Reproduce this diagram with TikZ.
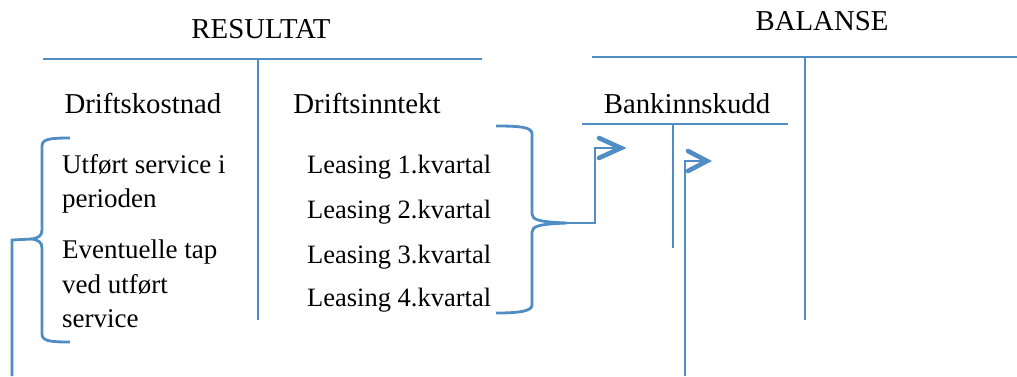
\documentclass[tikz,border=0pt]{standalone}
\usepackage{fontspec}
\setmainfont{Liberation Serif}
\definecolor{acct}{HTML}{4F8DC4}
\begin{document}
\begin{tikzpicture}[x=1pt,y=-1pt,
  tline/.style={draw=acct,line width=2.8pt},
  chev/.style={draw=acct,line width=4.6pt,line cap=round,line join=miter},
  head/.style={anchor=base,font=\fontsize{28.8}{32}\selectfont},
  item/.style={anchor=base west,font=\fontsize{27}{31}\selectfont,inner sep=0pt},
  lease/.style={anchor=base west,font=\fontsize{26.5}{30}\selectfont,inner sep=0pt}]
\useasboundingbox (0,0) rectangle (1017,376);

% RESULTAT T-account
\node[head] (res) at (261,38) {RESULTAT};
\coordinate (resL) at (43,59);
\coordinate (resR) at (482,59);
\coordinate (resTop) at (258,59);
\coordinate (resBot) at (258,320);
\draw[tline] (resL) -- (resR);
\draw[tline] (resTop) -- (resBot);
\node[head] (dk) at (143,113) {Driftskostnad};
\node[head] (di) at (367,113) {Driftsinntekt};

\node[item] (u1) at (62,173) {Utført service i};
\node[item] (u2) at (62,207) {perioden};
\node[item] (e1) at (62,258) {Eventuelle tap};
\node[item] (e2) at (62,293) {ved utført};
\node[item] (e3) at (62,327) {service};

\node[lease] (l1) at (307,173) {Leasing 1.kvartal};
\node[lease] (l2) at (307,218) {Leasing 2.kvartal};
\node[lease] (l3) at (307,263) {Leasing 3.kvartal};
\node[lease] (l4) at (307,306) {Leasing 4.kvartal};

% BALANSE T-account
\node[head] (bal) at (822,30) {BALANSE};
\coordinate (balL) at (592,57);
\coordinate (balR) at (1017,57);
\coordinate (balTop) at (805,57);
\coordinate (balBot) at (805,320);
\draw[tline] (balL) -- (balR);
\draw[tline] (balTop) -- (balBot);

% Bankinnskudd T-account
\node[head] (bank) at (687,113) {Bankinnskudd};
\coordinate (bkL) at (582,124);
\coordinate (bkR) at (788,124);
\coordinate (bkTop) at (673,124);
\coordinate (bkBot) at (673,248);
\draw[tline] (bkL) -- (bkR);
\draw[tline] (bkTop) -- (bkBot);

% left brace around the costs
\coordinate (lbTip) at (32,239);
\draw[tline]
  (70,138) .. controls (50,138) and (42,139) .. (42,146) -- (42,230)
  .. controls (42,236) and (38,238) .. (lbTip)
  .. controls (38,240) and (42,242) .. (42,248) -- (42,334)
  .. controls (42,341) and (50,342) .. (70,342);
\coordinate (lbDown) at (12,376);
\draw[tline] (lbTip) -- (12,240) -- (lbDown);

% right brace around the income
\coordinate (rbTip) at (567,223);
\draw[tline]
  (496,126) .. controls (520,126) and (532,127) .. (532,134) -- (532,214)
  .. controls (532,220) and (540,222) .. (rbTip)
  .. controls (540,224) and (532,226) .. (532,232) -- (532,305)
  .. controls (532,311) and (520,313) .. (496,313);

% arrows into the bank account
\coordinate (a1) at (621,148);
\draw[tline] (rbTip) -- (595,223) -- (595,148) -- (a1);
\draw[chev] (599,138) -- (a1) -- (599,158);
\coordinate (a2Start) at (685,376);
\coordinate (a2) at (707,161);
\draw[tline] (a2Start) -- (685,161) -- (a2);
\draw[chev] (688,151) -- (a2) -- (688,171);
\end{tikzpicture}
\end{document}
